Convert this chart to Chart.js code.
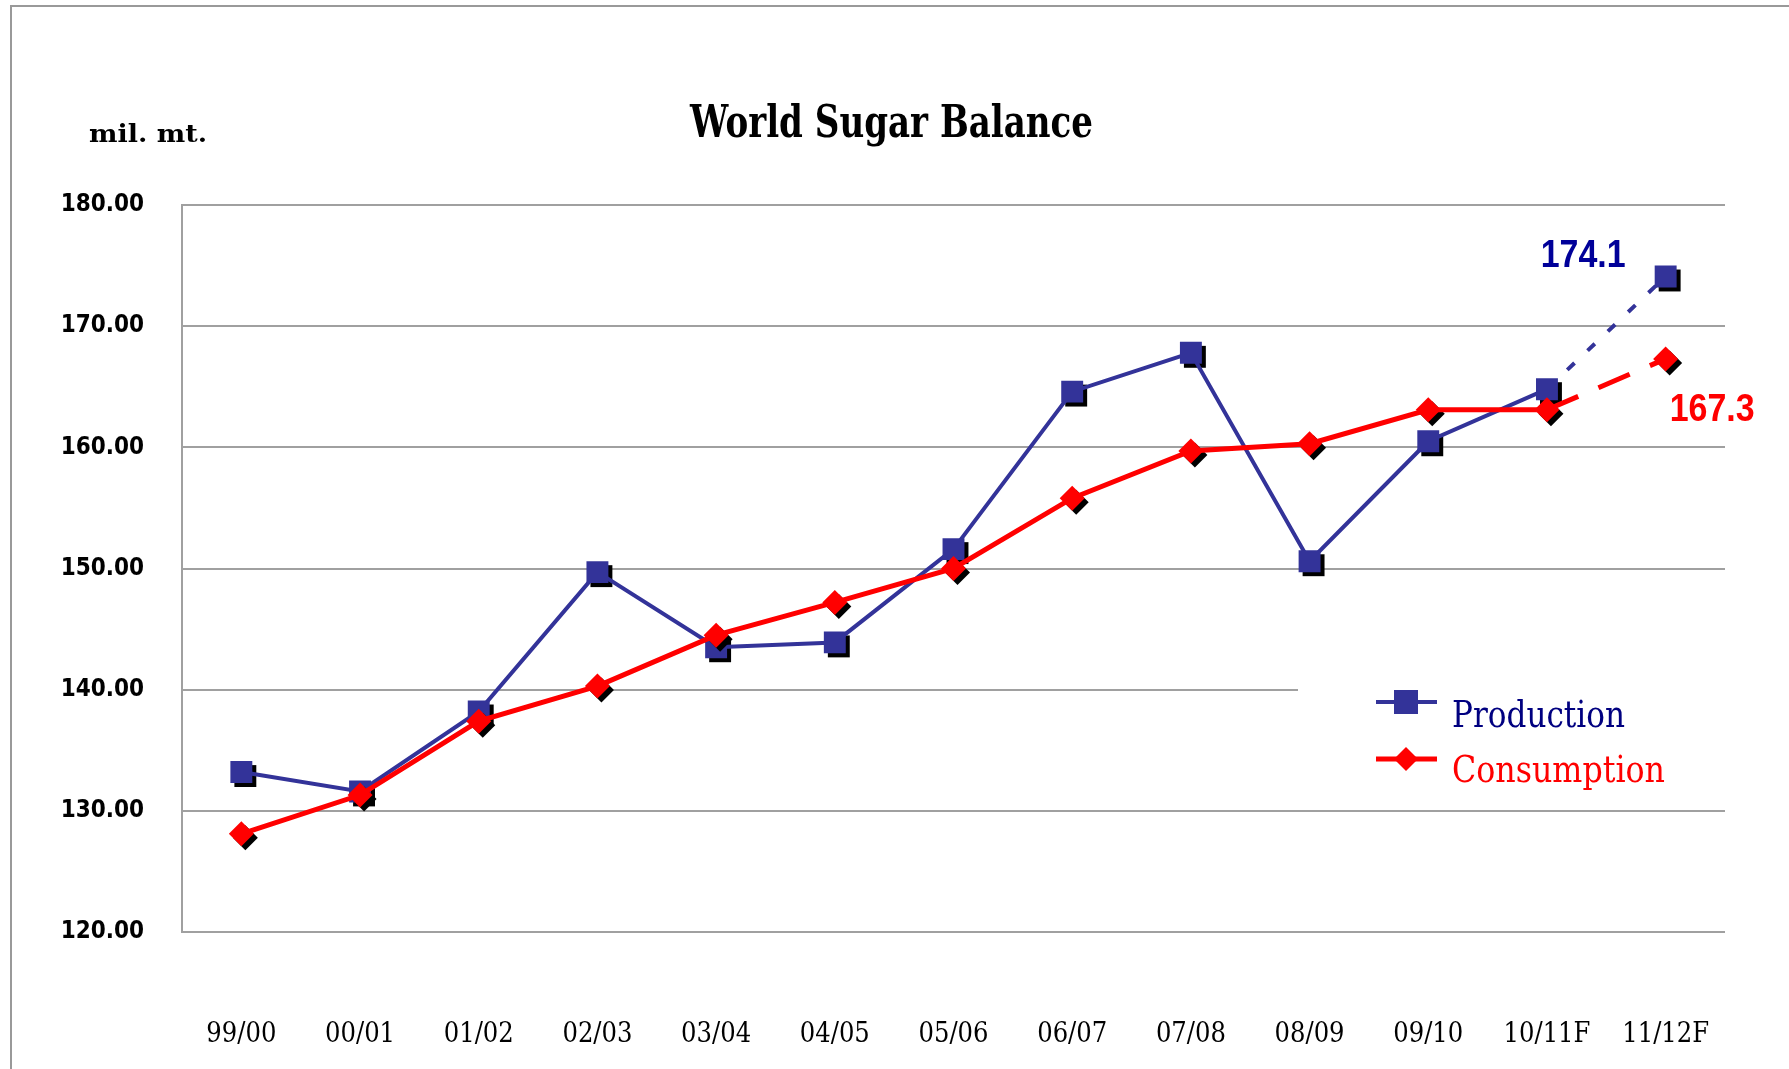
<!DOCTYPE html>
<html>
<head>
<meta charset="utf-8">
<script src="https://cdn.jsdelivr.net/npm/chart.js@4.4.1/dist/chart.umd.min.js"></script>
<style>
  html, body { margin: 0; padding: 0; background: #fff; }
  canvas { display: block; }
</style>
</head>
<body>
<canvas id="sugar" width="1789" height="1069"></canvas>
<script>
// Data
const seasons = ['99/00', '00/01', '01/02', '02/03', '03/04', '04/05', '05/06', '06/07', '07/08', '08/09', '09/10', '10/11F', '11/12F'];
const production = [133.2, 131.6, 138.2, 149.7, 143.5, 143.9, 151.6, 164.6, 167.8, 150.6, 160.5, 164.8, 174.1];
const consumption = [128.1, 131.3, 137.4, 140.3, 144.5, 147.2, 150.0, 155.8, 159.7, 160.3, 163.1, 163.1, 167.3];
const yMin = 120;
const yMax = 180;
const yStep = 10;
const forecastFrom = 11; // segment after this index is a forecast (dashed)

const blue = '#333399';
const red = '#ff0000';
const gridGray = '#a0a0a0';

// draw text squeezed to a given width (the original is horizontally condensed)
function fitText(ctx, text, x, y, font, color, width) {
    ctx.save();
    ctx.font = font;
    ctx.fillStyle = color;
    ctx.textAlign = 'left';
    ctx.textBaseline = 'alphabetic';
    const w = ctx.measureText(text).width;
    ctx.translate(x, y);
    ctx.scale(width / w, 1);
    ctx.fillText(text, 0, 0);
    ctx.restore();
}

function marker(ctx, style, x, y, r, color) {
    ctx.fillStyle = color;
    ctx.beginPath();
    if (style === 'rect') {
        const s = r * Math.SQRT1_2;
        ctx.rect(x - s, y - s, 2 * s, 2 * s);
    } else {
        ctx.moveTo(x, y - r);
        ctx.lineTo(x + r, y);
        ctx.lineTo(x, y + r);
        ctx.lineTo(x - r, y);
        ctx.closePath();
    }
    ctx.fill();
}

const decorations = {
    id: 'decorations',
    beforeDraw(chart) {
        const ctx = chart.ctx;
        ctx.save();
        ctx.strokeStyle = '#999';
        ctx.lineWidth = 2;
        ctx.beginPath();
        ctx.moveTo(11, chart.height + 2);
        ctx.lineTo(11, 6);
        ctx.lineTo(chart.width + 2, 6);
        ctx.stroke();
        ctx.restore();

        fitText(ctx, 'World Sugar Balance', 690, 137, 'bold 44px "DejaVu Serif"', '#000', 403);
        fitText(ctx, 'mil. mt.', 89, 142, 'bold 25px "DejaVu Serif"', '#000', 118);
    },
    beforeDatasetDraw(chart, args) {
        // black drop shadow behind the markers
        const ctx = chart.ctx;
        const ds = chart.data.datasets[args.index];
        ctx.save();
        args.meta.data.forEach(pt => {
            marker(ctx, ds.pointStyle, pt.x + 4, pt.y + 4, ds.pointRadius, '#000');
        });
        ctx.restore();
    },
    afterDatasetsDraw(chart) {
        const ctx = chart.ctx;
        ctx.save();
        // legend box hides part of the 140 grid line
        ctx.fillStyle = '#fff';
        ctx.fillRect(1298, 676, 440, 124);

        const rows = [
            { y: 702, base: 727, width: 173, text: '#000080' },
            { y: 759, base: 782, width: 213, text: red }
        ];
        chart.data.datasets.forEach((ds, i) => {
            const row = rows[i];
            ctx.strokeStyle = ds.borderColor;
            ctx.lineWidth = ds.borderWidth;
            ctx.beginPath();
            ctx.moveTo(1376, row.y);
            ctx.lineTo(1437, row.y);
            ctx.stroke();
            marker(ctx, ds.pointStyle, 1406, row.y, ds.pointStyle === 'rect' ? 17 : 12, ds.backgroundColor);
            fitText(ctx, ds.label, 1452, row.base, '37px "DejaVu Serif"', row.text, row.width);
        });

        // forecast value labels
        const last = seasons.length - 1;
        const pProd = chart.getDatasetMeta(0).data[last];
        const pCons = chart.getDatasetMeta(1).data[last];
        fitText(ctx, production[last].toFixed(1), pProd.x - 125, pProd.y - 9,
            'bold 38px "Liberation Sans"', '#000099', 85);
        fitText(ctx, consumption[last].toFixed(1), pCons.x + 4, pCons.y + 62,
            'bold 38px "Liberation Sans"', red, 85);
        ctx.restore();
    }
};

const forecastDash = dash => ({
    borderDash: c => (c.p0DataIndex >= forecastFrom ? dash : undefined)
});

new Chart(document.getElementById('sugar').getContext('2d'), {
    type: 'line',
    data: {
        labels: seasons,
        datasets: [{
            label: 'Production',
            data: production,
            borderColor: blue,
            backgroundColor: blue,
            borderWidth: 4,
            pointStyle: 'rect',
            pointRadius: 15.5,
            pointBorderWidth: 0,
            segment: forecastDash([10, 18]),
            order: 1
        }, {
            label: 'Consumption',
            data: consumption,
            borderColor: red,
            backgroundColor: red,
            borderWidth: 5,
            pointStyle: 'rectRot',
            pointRadius: 12.5,
            pointBorderWidth: 0,
            segment: forecastDash([34, 22]),
            order: 0
        }]
    },
    options: {
        responsive: false,
        animation: false,
        layout: { autoPadding: false, padding: { left: 0, right: 64, top: 205, bottom: 0 } },
        plugins: {
            legend: { display: false },
            title: { display: false },
            tooltip: { enabled: false }
        },
        scales: {
            x: {
                offset: true,
                grid: { display: false, drawTicks: false, tickLength: 0 },
                border: { display: false },
                afterFit: s => {
                    s.height = 137;
                    // the big label padding must not eat into the plot width
                    s.paddingLeft = 0;
                    s.paddingRight = 0;
                },
                ticks: {
                    padding: 87,
                    maxRotation: 0,
                    autoSkip: false,
                    color: '#000',
                    font: { family: '"DejaVu Serif Condensed", "Liberation Sans Narrow", "DejaVu Serif"', size: 27 }
                }
            },
            y: {
                min: yMin,
                max: yMax,
                grid: { color: gridGray, lineWidth: 2, drawTicks: false, tickLength: 0 },
                border: { display: true, color: gridGray, width: 2 },
                afterFit: s => { s.width = 182; },
                ticks: {
                    stepSize: yStep,
                    padding: 38,
                    color: '#000',
                    font: { family: '"DejaVu Sans Condensed", "DejaVu Sans"', size: 24, weight: 'bold' },
                    callback: v => v.toFixed(2)
                }
            }
        }
    },
    plugins: [decorations]
});
</script>
</body>
</html>
